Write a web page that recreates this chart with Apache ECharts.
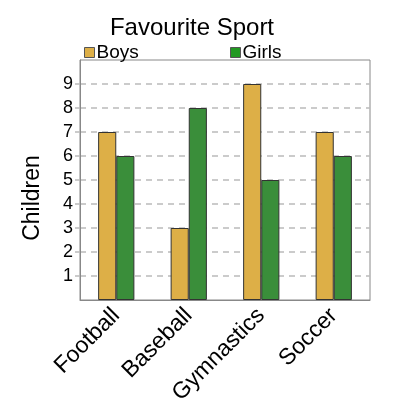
<!DOCTYPE html>
<html>
<head>
<meta charset="utf-8">
<script src="https://cdn.jsdelivr.net/npm/echarts@6/dist/echarts.min.js"></script>
<style>
  html, body { margin: 0; padding: 0; background: #fff; }
  #chart { width: 400px; height: 400px; }
</style>
</head>
<body>
<div id="chart"></div>
<script>
var sports = ['Football', 'Baseball', 'Gymnastics', 'Soccer']
var boys = [7, 3, 9, 7]
var girls = [6, 8, 5, 6]
var yTicks = [1, 2, 3, 4, 5, 6, 7, 8, 9]

var font = 'Liberation Sans, Arial, sans-serif'
var chart = echarts.init(document.getElementById('chart'))

chart.setOption({
  backgroundColor: '#fff',
  animation: false,
  title: {
    text: 'Favourite Sport',
    left: 187,
    textAlign: 'center',
    top: 11,
    textStyle: { fontFamily: font, fontSize: 24, fontWeight: 'normal', color: '#000' },
  },
  legend: [
    {
      data: ['Boys'],
      left: 79,
      top: 38,
      icon: 'rect',
      itemWidth: 10,
      itemHeight: 10,
      selectedMode: false,
      itemStyle: { color: '#DDAF47', borderColor: '#555', borderWidth: 1 },
      textStyle: { fontFamily: font, fontSize: 19, color: '#000', padding: [0, 0, 0, -3] },
    },
    {
      data: ['Girls'],
      left: 225,
      top: 38,
      icon: 'rect',
      itemWidth: 10,
      itemHeight: 10,
      selectedMode: false,
      itemStyle: { color: '#229922', borderColor: '#555', borderWidth: 1 },
      textStyle: { fontFamily: font, fontSize: 19, color: '#000', padding: [0, 0, 0, -3] },
    },
  ],
  graphic: [
    {
      type: 'text',
      x: 33,
      y: 198,
      rotation: Math.PI / 2,
      style: {
        text: 'Children',
        fontFamily: font,
        fontSize: 23,
        fill: '#000',
        textAlign: 'center',
        textVerticalAlign: 'middle',
      },
    },
  ],
  grid: {
    left: 80,
    right: 30,
    top: 60,
    bottom: 100,
    show: true,
    borderColor: '#888',
    borderWidth: 1,
    containLabel: false,
    outerBoundsMode: 'none',
  },
  xAxis: {
    type: 'category',
    data: sports,
    axisLine: { lineStyle: { color: '#888' } },
    axisTick: { show: false },
    axisLabel: {
      rotate: 45,
      margin: 12,
      fontFamily: font,
      fontSize: 23,
      color: '#000',
    },
  },
  yAxis: {
    type: 'value',
    min: 0,
    max: 10,
    interval: 1,
    axisLine: { show: true, lineStyle: { color: '#888' } },
    axisTick: { show: true, length: 5, customValues: yTicks, lineStyle: { color: '#bbb', width: 1.5 } },
    axisLabel: {
      margin: 7,
      fontFamily: font,
      fontSize: 18,
      color: '#000',
      customValues: yTicks,
    },
    splitLine: { lineStyle: { color: '#bbb', type: [6, 5], width: 1.5 } },
  },
  series: [
    {
      name: 'Boys',
      type: 'bar',
      data: boys,
      barWidth: '25%',
      barGap: '0%',
      itemStyle: { color: '#DDAF47', borderColor: '#333', borderWidth: 1 },
    },
    {
      name: 'Girls',
      type: 'bar',
      data: girls,
      barWidth: '25%',
      itemStyle: { color: '#3A8E3A', borderColor: '#333', borderWidth: 1 },
    },
  ],
})
</script>
</body>
</html>
